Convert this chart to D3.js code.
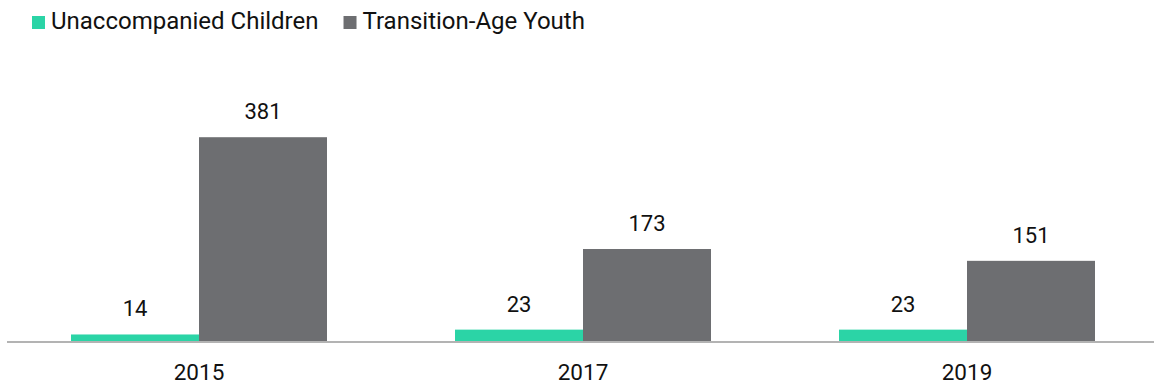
<!DOCTYPE html>
<html><head><meta charset="utf-8">
<script src="https://cdn.jsdelivr.net/npm/d3@7"></script>
<style>body{margin:0;background:#fff;font-family:Roboto,sans-serif;}</style>
</head><body>
<svg id="chart" width="1154" height="385"></svg>
<script>
const years = ["2015", "2017", "2019"];
const seriesNames = ["Unaccompanied Children", "Transition-Age Youth"];
const unaccompanied = [14, 23, 23];
const transitionAge = [381, 173, 151];
const colors = ["#2bd4a6", "#6d6e71"];

const svg = d3.select("#chart");
const x0 = d3.scaleBand().domain(years).range([7, 1159]).paddingInner(1/3).paddingOuter(1/6);
const x1 = d3.scaleBand().domain(seriesNames).range([0, x0.bandwidth()]);
const y = d3.scaleLinear().domain([0, 400]).range([342, 127]);

const data = years.map((yr, i) => ({year: yr, values: [unaccompanied[i], transitionAge[i]]}));

const g = svg.append("g");
data.forEach(d => {
  d.values.forEach((v, j) => {
    g.append("rect")
      .attr("x", x0(d.year) + x1(seriesNames[j]))
      .attr("y", y(v))
      .attr("width", x1.bandwidth())
      .attr("height", y(0) - y(v))
      .attr("fill", colors[j]);
    g.append("text")
      .attr("x", x0(d.year) + x1(seriesNames[j]) + x1.bandwidth()/2)
      .attr("y", y(v) - 18)
      .attr("text-anchor", "middle")
      .attr("font-size", 22)
      .attr("fill", "#111")
      .text(v);
  });
});

const xAxis = svg.append("g").attr("transform", "translate(0,342)")
  .call(d3.axisBottom(x0).tickSize(0).tickPadding(22));
xAxis.select(".domain").attr("stroke", "#b3b3b3").attr("stroke-width", 2).attr("d", "M7,0H1154");
xAxis.selectAll("text").attr("font-size", 22.5).attr("font-family", "Roboto").attr("fill", "#111");

const legend = svg.append("g");
let lx = 32;
seriesNames.forEach((n, j) => {
  legend.append("rect").attr("x", lx).attr("y", 16).attr("width", 13).attr("height", 13).attr("fill", colors[j]);
  const t = legend.append("text").attr("x", lx + 19).attr("y", 29).attr("font-size", 24).attr("fill", "#111").text(n);
  lx += 19 + t.node().getComputedTextLength() + 25;
});
</script>
</body></html>
